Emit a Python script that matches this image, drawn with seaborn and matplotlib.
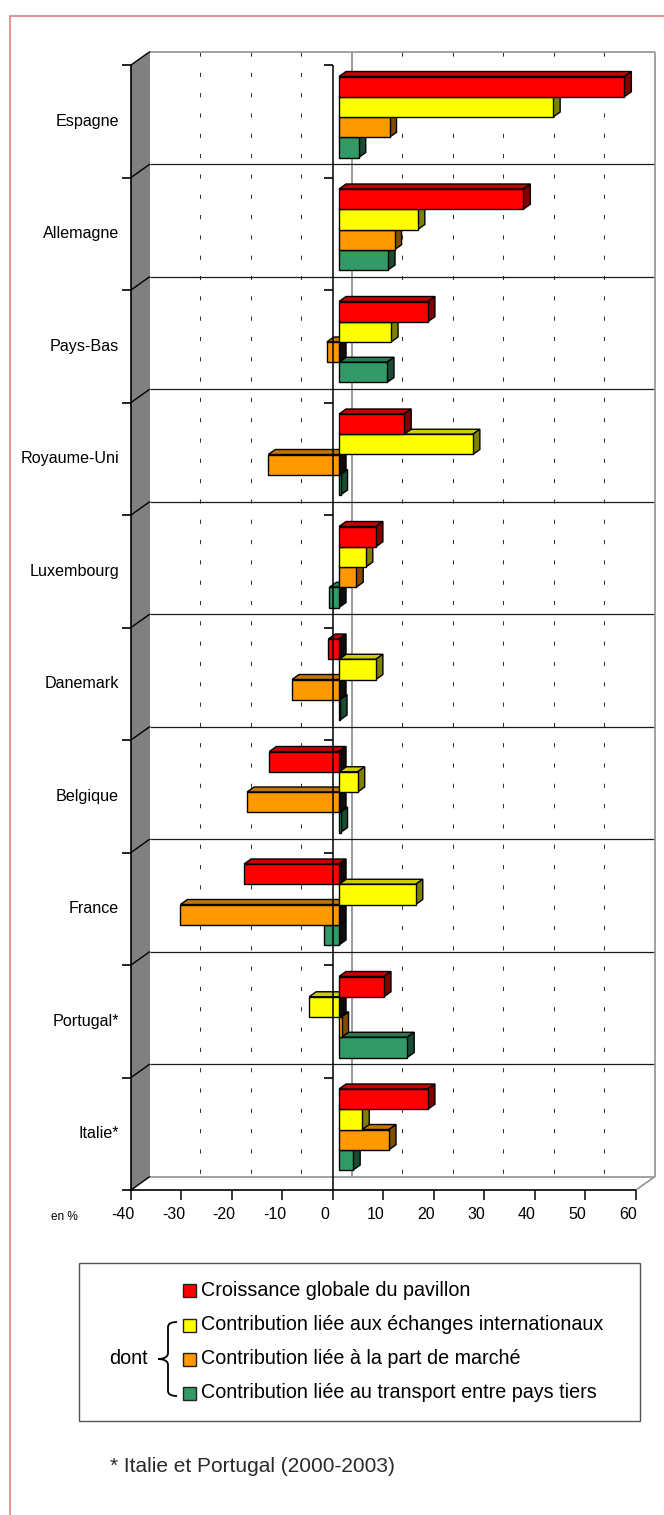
import numpy as np
import pandas as pd
import matplotlib
matplotlib.use("Agg")
import matplotlib.pyplot as plt
from matplotlib.patches import Polygon, Rectangle, PathPatch
from matplotlib.path import Path
from matplotlib.colors import to_rgba
import seaborn as sns

# ---------------------------------------------------------------- data
pays = ["Espagne", "Allemagne", "Pays-Bas", "Royaume-Uni", "Luxembourg",
        "Danemark", "Belgique", "France", "Portugal*", "Italie*"]
croissance = [56.5, 36.5, 17.6, 12.9, 7.3, -2.1, -13.8, -18.8, 8.9, 17.6]
echanges = [42.4, 15.6, 10.3, 26.5, 5.3, 7.3, 3.7, 15.2, -5.9, 4.6]
part_marche = [10.0, 11.0, -2.4, -14.0, 3.4, -9.3, -18.2, -31.4, 0.5, 9.9]
pays_tiers = [3.9, 9.7, 9.5, 0.3, -1.9, 0.2, 0.3, -3.0, 13.5, 2.8]

series = ["Croissance globale du pavillon",
          "Contribution liée aux échanges internationaux",
          "Contribution liée à la part de marché",
          "Contribution liée au transport entre pays tiers"]
x_ticks = [-40, -30, -20, -10, 0, 10, 20, 30, 40, 50, 60]
footnote = "* Italie et Portugal (2000-2003)"

# face colours: front / top / right side
FRONT = ["#FF0000", "#FFFF00", "#FF9900", "#339966"]
TOP = ["#C40000", "#CCCC00", "#C47600", "#287A50"]
SIDE = ["#800000", "#808000", "#804C00", "#1A4C33"]

df = pd.DataFrame({
    "pays": pays * 4,
    "serie": np.repeat(series, len(pays)),
    "valeur": croissance + echanges + part_marche + pays_tiers,
})

# ---------------------------------------------------------------- figure
W, H = 664, 1515
sns.set_style("white")
plt.rcParams["font.family"] = ["Liberation Sans", "DejaVu Sans"]
fig = plt.figure(figsize=(W / 100, H / 100), dpi=100)

# plotting axes: value 0 of the bar plane at x=339 px, 5.05 px per unit;
# category i centred at y = 117 + 112.5 i px
X0_PX, PX_U = 339.0, 5.05
Y0_PX, PX_CAT = 117.0, 112.5
AX_L, AX_R, AX_T, AX_B = 100, 664, 30, 1230
ax = fig.add_axes([AX_L / W, 1 - AX_B / H, (AX_R - AX_L) / W, (AX_B - AX_T) / H])

sns.barplot(data=df, x="valeur", y="pays", hue="serie", order=pays,
            hue_order=series, orient="h", palette=dict(zip(series, FRONT)),
            width=0.72, saturation=1, edgecolor="black", linewidth=1.0,
            legend=False, ax=ax)
bar_patches = list(ax.patches)

ax.set_xlim((AX_L - X0_PX) / PX_U, (AX_R - X0_PX) / PX_U)
ax.set_ylim((AX_B - Y0_PX) / PX_CAT, (AX_T - Y0_PX) / PX_CAT)
ax.set_axis_off()

# oblique depth of the 3-D box (19 px right, 13.5 px up)
DXU = 19.0 / PX_U
DYU = -13.5 / PX_CAT
T_FRONT, T_BACK, T_BAR = -0.316, 0.684, 0.37
XMIN, XMAX = x_ticks[0], x_ticks[-1]
YTOP, YBOT = -0.5, len(pays) - 0.5


def P(v, y, t):
    return (v + t * DXU, y + t * DYU)


def line(p, q, **kw):
    ax.plot([p[0], q[0]], [p[1], q[1]], solid_capstyle="butt",
            clip_on=False, **kw)


# back wall
ax.add_patch(Polygon([P(XMIN, YTOP, T_BACK), P(XMAX, YTOP, T_BACK),
                      P(XMAX, YBOT, T_BACK), P(XMIN, YBOT, T_BACK)],
                     closed=True, facecolor="white", edgecolor="none",
                     zorder=0.5, clip_on=False))
for v in x_ticks[1:-1]:
    if v == 0:
        line(P(v, YTOP, T_BACK), P(v, YBOT, T_BACK), color="#808080",
             lw=1.1, zorder=1)
    else:
        line(P(v, YTOP, T_BACK), P(v, YBOT, T_BACK), color="#333333",
             lw=0.75, linestyle=(0, (4, 15.5)), zorder=1)
line(P(XMIN, YTOP, T_BACK), P(XMAX, YTOP, T_BACK), color="#9a9a9a", lw=1.3, zorder=1.2)
line(P(XMAX, YTOP, T_BACK), P(XMAX, YBOT, T_BACK), color="#9a9a9a", lw=1.3, zorder=1.2)
for k in range(1, len(pays)):
    yb = k - 0.5
    line(P(XMIN, yb, T_BACK), P(XMAX, yb, T_BACK), color="#1a1a1a", lw=0.9, zorder=1.1)

# floor
ax.add_patch(Polygon([P(XMIN, YBOT, T_FRONT), P(XMAX, YBOT, T_FRONT),
                      P(XMAX, YBOT, T_BACK), P(XMIN, YBOT, T_BACK)],
                     closed=True, facecolor="white", edgecolor="none",
                     zorder=1.3, clip_on=False))
line(P(XMIN, YBOT, T_BACK), P(XMAX, YBOT, T_BACK), color="#9a9a9a", lw=1.3, zorder=1.4)
line(P(XMAX, YBOT, T_FRONT), P(XMAX, YBOT, T_BACK), color="#9a9a9a", lw=1.3, zorder=1.4)

# left side wall
ax.add_patch(Polygon([P(XMIN, YTOP, T_FRONT), P(XMIN, YTOP, T_BACK),
                      P(XMIN, YBOT, T_BACK), P(XMIN, YBOT, T_FRONT)],
                     closed=True, facecolor="#808080", edgecolor="none",
                     zorder=1.5, clip_on=False))
for k in range(0, len(pays) + 1):
    yb = k - 0.5
    line(P(XMIN, yb, T_FRONT), P(XMIN, yb, T_BACK), color="black", lw=1.0, zorder=1.6)
line(P(XMIN, YTOP, T_FRONT), P(XMIN, YBOT, T_FRONT), color="black", lw=1.2, zorder=1.7)

# ---------------------------------------------------------------- 3-D bars
bars = []
for p in bar_patches:
    fc = np.array(to_rgba(p.get_facecolor()))
    s = min(range(4), key=lambda i: np.sum(np.abs(np.array(to_rgba(FRONT[i])) - fc)))
    bars.append((p, s))
# paint from the lowest bar upwards so upper bars hide the top faces below
bars.sort(key=lambda b: -(b[0].get_y() + b[0].get_height()))

bx, by = T_BAR * DXU, T_BAR * DYU
for rank, (p, s) in enumerate(bars):
    x0, w = p.get_x(), p.get_width()
    y0, h = p.get_y(), p.get_height()
    lo, hi = min(x0, x0 + w), max(x0, x0 + w)
    yt, yb = min(y0, y0 + h), max(y0, y0 + h)
    z = 5 + rank * 0.01
    neg = (x0 + w) < 0
    ax.add_patch(Polygon([(lo, yt), (hi, yt), (hi + bx, yt + by), (lo + bx, yt + by)],
                         closed=True, facecolor=TOP[s], edgecolor="black",
                         lw=1.0, joinstyle="miter", zorder=z))
    ax.add_patch(Polygon([(hi, yt), (hi, yb), (hi + bx, yb + by), (hi + bx, yt + by)],
                         closed=True, facecolor=("#0d0d0d" if neg else SIDE[s]),
                         edgecolor="black", lw=1.0, joinstyle="miter", zorder=z + 0.001))
    p.set_zorder(z + 0.002)
    p.set_joinstyle("miter")

# ---------------------------------------------------------------- axes lines
tick_len = 9.0 / PX_U
# vertical value-zero line on the front plane, with category ticks
line(P(0, YTOP, T_FRONT), P(0, YBOT, T_FRONT), color="black", lw=1.1, zorder=50)
for k in range(0, len(pays)):
    xa, ya = P(0, k - 0.5, T_FRONT)
    line((xa - tick_len, ya), (xa, ya), color="black", lw=1.2, zorder=50)
    xa, ya = P(XMIN, k - 0.5, T_FRONT)
    line((xa - tick_len, ya), (xa, ya), color="black", lw=1.2, zorder=50)

# bottom value axis
xa, ya = P(XMIN, YBOT, T_FRONT)
xb, _ = P(XMAX, YBOT, T_FRONT)
line((xa - tick_len, ya), (xb, ya), color="black", lw=1.2, zorder=50)
down = 10.0 / PX_CAT
lab_y = (1214.5 - Y0_PX) / PX_CAT
for v in x_ticks:
    xt, yt_ = P(v, YBOT, T_FRONT)
    line((xt, yt_), (xt, yt_ + down), color="black", lw=1.1, zorder=50)
    ax.text(xt - 8.0 / PX_U, lab_y, f"{v}", ha="center", va="center",
            fontsize=11.5, color="black", clip_on=False)

ax.text((64 - X0_PX) / PX_U, (1217 - Y0_PX) / PX_CAT, "en %", ha="center",
        va="center", fontsize=8.5, color="black", clip_on=False)

# category labels
for i, name in enumerate(pays):
    xl = (119 - X0_PX) / PX_U
    yl = P(0, i, T_FRONT)[1]
    ax.text(xl, yl, name, ha="right", va="center", fontsize=11.6,
            color="black", clip_on=False)

# ---------------------------------------------------------------- legend & notes (pixel overlay)
ov = fig.add_axes([0, 0, 1, 1])
ov.set_xlim(0, W)
ov.set_ylim(H, 0)
ov.set_axis_off()
ov.patch.set_visible(False)

# outer frame
ov.plot([10, 10, W + 5], [H + 5, 16, 16], color="#EB7F7F", lw=1.2, solid_joinstyle="miter")

ov.add_patch(Rectangle((79, 1263), 561, 158, facecolor="white",
                       edgecolor="#555555", lw=1.0))
row_y = [1290, 1325, 1359, 1393]
for yy, col, lab in zip(row_y, FRONT, series):
    ov.add_patch(Rectangle((183, yy - 6.5), 13, 13, facecolor=col,
                           edgecolor="#222222", lw=1.0))
    ov.text(201, yy, lab, ha="left", va="center", fontsize=14.2, color="black")

ov.text(128, 1359, "dont", ha="center", va="center", fontsize=14.2, color="black")

# curly brace grouping the three contributions
bx0, bx1, bxm = 177, 168, 158
ytop_b, ybot_b, ymid = row_y[1] - 3, row_y[3] + 3, row_y[2]
verts = [(bx0, ytop_b), (bx1, ytop_b), (bx1, ytop_b + 5),
         (bx1, ymid - 6),
         (bx1, ymid - 1), (bxm + 4, ymid), (bxm, ymid),
         (bxm + 4, ymid), (bx1, ymid + 1), (bx1, ymid + 6),
         (bx1, ybot_b - 5),
         (bx1, ybot_b), (bx0, ybot_b)]
codes = [Path.MOVETO, Path.CURVE3, Path.CURVE3,
         Path.LINETO,
         Path.CURVE4, Path.CURVE4, Path.CURVE4,
         Path.CURVE4, Path.CURVE4, Path.CURVE4,
         Path.LINETO,
         Path.CURVE3, Path.CURVE3]
ov.add_patch(PathPatch(Path(verts, codes), facecolor="none", edgecolor="black", lw=1.3))

ov.text(110, 1467, footnote, ha="left", va="center", fontsize=15, color="#2a2a2a")

fig.savefig("out.png", dpi=100)
